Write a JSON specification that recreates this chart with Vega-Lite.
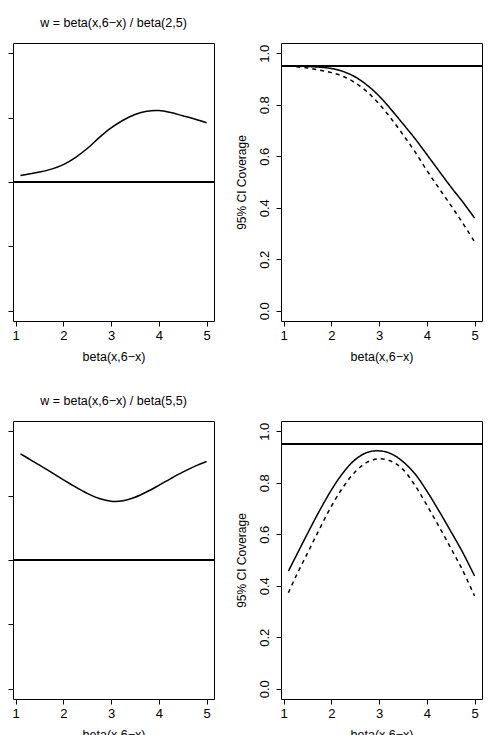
{
  "$schema": "https://vega.github.io/schema/vega-lite/v6.json",
  "autosize": {"type": "pad"},
  "padding": {"left": 7, "top": 16, "right": 0, "bottom": 0},
  "background": "white",
  "config": {
    "font": "Liberation Sans",
    "view": {"stroke": "black", "strokeWidth": 1},
    "axis": {
      "grid": false,
      "domain": false,
      "tickColor": "black",
      "tickSize": 5,
      "tickWidth": 1,
      "labelColor": "black",
      "labelFont": "Liberation Sans",
      "labelFontSize": 13,
      "labelPadding": 3,
      "titleColor": "black",
      "titleFont": "Liberation Sans",
      "titleFontSize": 12.5,
      "titleFontWeight": "normal"
    },
    "title": {"font": "Liberation Sans", "fontSize": 12.5, "fontWeight": "normal", "color": "black", "anchor": "middle", "offset": 14}
  },
  "datasets": {
    "weight": [
      {"panel": "w25", "x": 1.1, "y": 0.10},
      {"panel": "w25", "x": 1.25, "y": 0.12},
      {"panel": "w25", "x": 1.5, "y": 0.155},
      {"panel": "w25", "x": 1.75, "y": 0.20},
      {"panel": "w25", "x": 2.0, "y": 0.27},
      {"panel": "w25", "x": 2.25, "y": 0.38},
      {"panel": "w25", "x": 2.5, "y": 0.52},
      {"panel": "w25", "x": 2.75, "y": 0.69},
      {"panel": "w25", "x": 3.0, "y": 0.84},
      {"panel": "w25", "x": 3.25, "y": 0.96},
      {"panel": "w25", "x": 3.5, "y": 1.05},
      {"panel": "w25", "x": 3.75, "y": 1.10},
      {"panel": "w25", "x": 4.0, "y": 1.11},
      {"panel": "w25", "x": 4.25, "y": 1.08},
      {"panel": "w25", "x": 4.5, "y": 1.03},
      {"panel": "w25", "x": 4.75, "y": 0.98},
      {"panel": "w25", "x": 5.0, "y": 0.92},
      {"panel": "w55", "x": 1.1, "y": 1.65},
      {"panel": "w55", "x": 1.25, "y": 1.585},
      {"panel": "w55", "x": 1.5, "y": 1.475},
      {"panel": "w55", "x": 1.75, "y": 1.36},
      {"panel": "w55", "x": 2.0, "y": 1.245},
      {"panel": "w55", "x": 2.25, "y": 1.135},
      {"panel": "w55", "x": 2.5, "y": 1.035},
      {"panel": "w55", "x": 2.75, "y": 0.955},
      {"panel": "w55", "x": 3.0, "y": 0.912},
      {"panel": "w55", "x": 3.25, "y": 0.92},
      {"panel": "w55", "x": 3.5, "y": 0.975},
      {"panel": "w55", "x": 3.75, "y": 1.06},
      {"panel": "w55", "x": 4.0, "y": 1.16},
      {"panel": "w55", "x": 4.25, "y": 1.265},
      {"panel": "w55", "x": 4.5, "y": 1.365},
      {"panel": "w55", "x": 4.75, "y": 1.455},
      {"panel": "w55", "x": 5.0, "y": 1.53}
    ],
    "coverage": [
      {"panel": "c25", "series": "solid", "x": 1.1, "y": 0.952},
      {"panel": "c25", "series": "solid", "x": 1.25, "y": 0.951},
      {"panel": "c25", "series": "solid", "x": 1.5, "y": 0.949},
      {"panel": "c25", "series": "solid", "x": 1.75, "y": 0.946},
      {"panel": "c25", "series": "solid", "x": 2.0, "y": 0.941},
      {"panel": "c25", "series": "solid", "x": 2.25, "y": 0.929},
      {"panel": "c25", "series": "solid", "x": 2.5, "y": 0.908},
      {"panel": "c25", "series": "solid", "x": 2.75, "y": 0.876},
      {"panel": "c25", "series": "solid", "x": 3.0, "y": 0.834},
      {"panel": "c25", "series": "solid", "x": 3.25, "y": 0.782},
      {"panel": "c25", "series": "solid", "x": 3.5, "y": 0.726},
      {"panel": "c25", "series": "solid", "x": 3.75, "y": 0.669},
      {"panel": "c25", "series": "solid", "x": 4.0, "y": 0.607},
      {"panel": "c25", "series": "solid", "x": 4.25, "y": 0.544},
      {"panel": "c25", "series": "solid", "x": 4.5, "y": 0.482},
      {"panel": "c25", "series": "solid", "x": 4.75, "y": 0.423},
      {"panel": "c25", "series": "solid", "x": 5.0, "y": 0.360},
      {"panel": "c25", "series": "dashed", "x": 1.1, "y": 0.951},
      {"panel": "c25", "series": "dashed", "x": 1.25, "y": 0.948},
      {"panel": "c25", "series": "dashed", "x": 1.5, "y": 0.943},
      {"panel": "c25", "series": "dashed", "x": 1.75, "y": 0.935},
      {"panel": "c25", "series": "dashed", "x": 2.0, "y": 0.925},
      {"panel": "c25", "series": "dashed", "x": 2.25, "y": 0.910},
      {"panel": "c25", "series": "dashed", "x": 2.5, "y": 0.885},
      {"panel": "c25", "series": "dashed", "x": 2.75, "y": 0.850},
      {"panel": "c25", "series": "dashed", "x": 3.0, "y": 0.803},
      {"panel": "c25", "series": "dashed", "x": 3.25, "y": 0.747},
      {"panel": "c25", "series": "dashed", "x": 3.5, "y": 0.684},
      {"panel": "c25", "series": "dashed", "x": 3.75, "y": 0.618},
      {"panel": "c25", "series": "dashed", "x": 4.0, "y": 0.545},
      {"panel": "c25", "series": "dashed", "x": 4.25, "y": 0.477},
      {"panel": "c25", "series": "dashed", "x": 4.5, "y": 0.410},
      {"panel": "c25", "series": "dashed", "x": 4.75, "y": 0.341},
      {"panel": "c25", "series": "dashed", "x": 5.0, "y": 0.268},
      {"panel": "c55", "series": "solid", "x": 1.1, "y": 0.457},
      {"panel": "c55", "series": "solid", "x": 1.25, "y": 0.512},
      {"panel": "c55", "series": "solid", "x": 1.5, "y": 0.603},
      {"panel": "c55", "series": "solid", "x": 1.75, "y": 0.691},
      {"panel": "c55", "series": "solid", "x": 2.0, "y": 0.772},
      {"panel": "c55", "series": "solid", "x": 2.25, "y": 0.840},
      {"panel": "c55", "series": "solid", "x": 2.5, "y": 0.890},
      {"panel": "c55", "series": "solid", "x": 2.75, "y": 0.918},
      {"panel": "c55", "series": "solid", "x": 3.0, "y": 0.924},
      {"panel": "c55", "series": "solid", "x": 3.25, "y": 0.913},
      {"panel": "c55", "series": "solid", "x": 3.5, "y": 0.882},
      {"panel": "c55", "series": "solid", "x": 3.75, "y": 0.835},
      {"panel": "c55", "series": "solid", "x": 4.0, "y": 0.768},
      {"panel": "c55", "series": "solid", "x": 4.25, "y": 0.692},
      {"panel": "c55", "series": "solid", "x": 4.5, "y": 0.612},
      {"panel": "c55", "series": "solid", "x": 4.75, "y": 0.530},
      {"panel": "c55", "series": "solid", "x": 5.0, "y": 0.438},
      {"panel": "c55", "series": "dashed", "x": 1.1, "y": 0.373},
      {"panel": "c55", "series": "dashed", "x": 1.25, "y": 0.434},
      {"panel": "c55", "series": "dashed", "x": 1.5, "y": 0.527},
      {"panel": "c55", "series": "dashed", "x": 1.75, "y": 0.620},
      {"panel": "c55", "series": "dashed", "x": 2.0, "y": 0.709},
      {"panel": "c55", "series": "dashed", "x": 2.25, "y": 0.784},
      {"panel": "c55", "series": "dashed", "x": 2.5, "y": 0.843},
      {"panel": "c55", "series": "dashed", "x": 2.75, "y": 0.880},
      {"panel": "c55", "series": "dashed", "x": 3.0, "y": 0.893},
      {"panel": "c55", "series": "dashed", "x": 3.25, "y": 0.884},
      {"panel": "c55", "series": "dashed", "x": 3.5, "y": 0.852},
      {"panel": "c55", "series": "dashed", "x": 3.75, "y": 0.790},
      {"panel": "c55", "series": "dashed", "x": 4.0, "y": 0.713},
      {"panel": "c55", "series": "dashed", "x": 4.25, "y": 0.632},
      {"panel": "c55", "series": "dashed", "x": 4.5, "y": 0.547},
      {"panel": "c55", "series": "dashed", "x": 4.75, "y": 0.460},
      {"panel": "c55", "series": "dashed", "x": 5.0, "y": 0.360}
    ]
  },
  "bounds": "flush",
  "columns": 2,
  "spacing": {"row": 100, "column": 67},
  "concat": [
    {
      "width": 201,
      "height": 278,
      "title": "w = beta(x,6−x) / beta(2,5)",
      "data": {"name": "weight"},
      "transform": [{"filter": "datum.panel === 'w25'"}],
      "layer": [
        {
          "mark": {"type": "line", "color": "black", "strokeWidth": 1.5, "interpolate": "catmull-rom"},
          "encoding": {
            "x": {"field": "x", "type": "quantitative", "scale": {"domain": [0.944, 5.156], "nice": false, "zero": false}, "axis": {"values": [1, 2, 3, 4, 5], "format": "d", "title": "beta(x,6−x)", "titlePadding": 8}},
            "y": {"field": "y", "type": "quantitative", "scale": {"domain": [-2.16, 2.16], "nice": false, "zero": false}, "axis": {"values": [-2, -1, 0, 1, 2], "labels": false, "title": null}}
          }
        },
        {
          "mark": {"type": "rule", "color": "black", "strokeWidth": 1.6},
          "encoding": {"y": {"datum": 0}}
        }
      ]
    },
    {
      "width": 201,
      "height": 278,
      "data": {"name": "coverage"},
      "transform": [{"filter": "datum.panel === 'c25'"}],
      "layer": [
        {
          "mark": {"type": "line", "color": "black", "strokeWidth": 1.5, "interpolate": "catmull-rom"},
          "encoding": {
            "x": {"field": "x", "type": "quantitative", "scale": {"domain": [0.944, 5.156], "nice": false, "zero": false}, "axis": {"values": [1, 2, 3, 4, 5], "format": "d", "title": "beta(x,6−x)", "titlePadding": 8}},
            "y": {"field": "y", "type": "quantitative", "scale": {"domain": [-0.04, 1.04], "nice": false, "zero": false}, "axis": {"values": [0, 0.2, 0.4, 0.6, 0.8, 1.0], "format": ".1f", "labelAngle": -90, "labelPadding": 5, "title": "95% CI Coverage", "titleFontSize": 12, "titlePadding": 10}},
            "detail": {"field": "series"},
            "strokeDash": {"field": "series", "type": "nominal", "scale": {"domain": ["solid", "dashed"], "range": [[1, 0], [4, 4]]}, "legend": null}
          }
        },
        {
          "mark": {"type": "rule", "color": "black", "strokeWidth": 1.6},
          "encoding": {"y": {"datum": 0.95}}
        }
      ]
    },
    {
      "width": 201,
      "height": 278,
      "title": "w =  beta(x,6−x) / beta(5,5)",
      "data": {"name": "weight"},
      "transform": [{"filter": "datum.panel === 'w55'"}],
      "layer": [
        {
          "mark": {"type": "line", "color": "black", "strokeWidth": 1.5, "interpolate": "catmull-rom"},
          "encoding": {
            "x": {"field": "x", "type": "quantitative", "scale": {"domain": [0.944, 5.156], "nice": false, "zero": false}, "axis": {"values": [1, 2, 3, 4, 5], "format": "d", "title": "beta(x,6−x)", "titlePadding": 8}},
            "y": {"field": "y", "type": "quantitative", "scale": {"domain": [-2.16, 2.16], "nice": false, "zero": false}, "axis": {"values": [-2, -1, 0, 1, 2], "labels": false, "title": null}}
          }
        },
        {
          "mark": {"type": "rule", "color": "black", "strokeWidth": 1.6},
          "encoding": {"y": {"datum": 0}}
        }
      ]
    },
    {
      "width": 201,
      "height": 278,
      "data": {"name": "coverage"},
      "transform": [{"filter": "datum.panel === 'c55'"}],
      "layer": [
        {
          "mark": {"type": "line", "color": "black", "strokeWidth": 1.5, "interpolate": "catmull-rom"},
          "encoding": {
            "x": {"field": "x", "type": "quantitative", "scale": {"domain": [0.944, 5.156], "nice": false, "zero": false}, "axis": {"values": [1, 2, 3, 4, 5], "format": "d", "title": "beta(x,6−x)", "titlePadding": 8}},
            "y": {"field": "y", "type": "quantitative", "scale": {"domain": [-0.04, 1.04], "nice": false, "zero": false}, "axis": {"values": [0, 0.2, 0.4, 0.6, 0.8, 1.0], "format": ".1f", "labelAngle": -90, "labelPadding": 5, "title": "95% CI Coverage", "titleFontSize": 12, "titlePadding": 10}},
            "detail": {"field": "series"},
            "strokeDash": {"field": "series", "type": "nominal", "scale": {"domain": ["solid", "dashed"], "range": [[1, 0], [4, 4]]}, "legend": null}
          }
        },
        {
          "mark": {"type": "rule", "color": "black", "strokeWidth": 1.6},
          "encoding": {"y": {"datum": 0.95}}
        }
      ]
    }
  ]
}
